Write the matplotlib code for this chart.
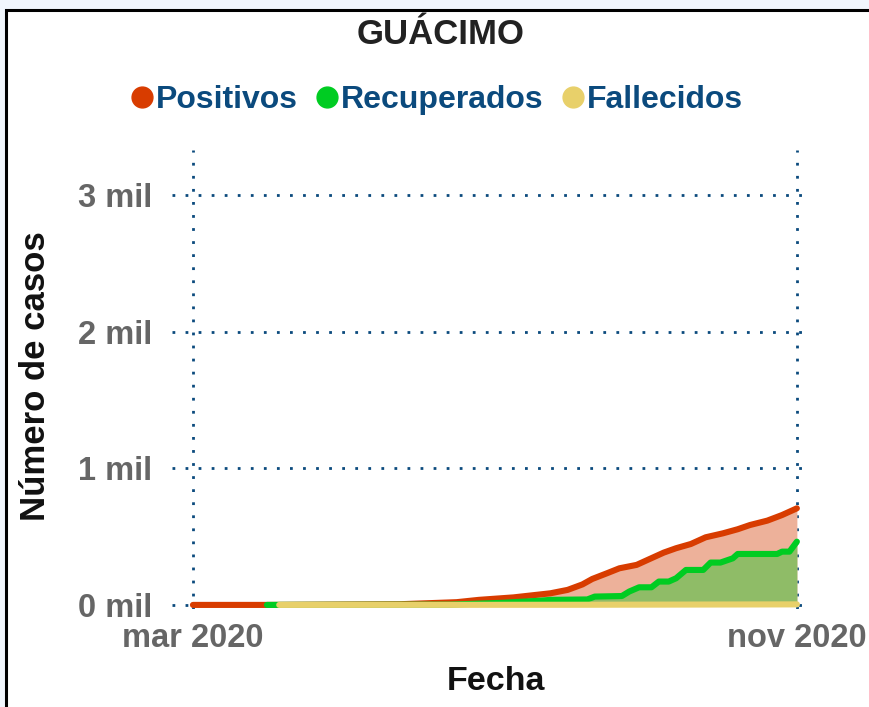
import pandas as pd
import matplotlib
matplotlib.use('Agg')
import matplotlib.pyplot as plt
from matplotlib.lines import Line2D
from matplotlib.patches import Rectangle

plt.rcParams['font.family'] = ['Liberation Sans', 'DejaVu Sans']
plt.rcParams['font.weight'] = 'bold'
plt.rcParams['axes.labelweight'] = 'bold'

# data
pos_dates = ['2020-03-01', '2020-04-01', '2020-05-24', '2020-06-16', '2020-06-25',
             '2020-07-09', '2020-07-24', '2020-07-31', '2020-08-06', '2020-08-10',
             '2020-08-16', '2020-08-21', '2020-08-28', '2020-09-02', '2020-09-08',
             '2020-09-13', '2020-09-19', '2020-09-25', '2020-10-02', '2020-10-08',
             '2020-10-13', '2020-10-20', '2020-10-26', '2020-11-01']
positivos = [0, 0, 5, 20, 37, 55, 85, 110, 150, 190, 232, 268, 293, 334, 383,
             415, 446, 495, 524, 554, 585, 617, 658, 707]

rec_dates = ['2020-03-31', '2020-06-13', '2020-07-04', '2020-07-20', '2020-07-24',
             '2020-08-08', '2020-08-11', '2020-08-22', '2020-08-25', '2020-08-29',
             '2020-09-03', '2020-09-06', '2020-09-10', '2020-09-13', '2020-09-17',
             '2020-09-24', '2020-09-27', '2020-10-01', '2020-10-06', '2020-10-08',
             '2020-10-24', '2020-10-26', '2020-10-29', '2020-11-01']
recuperados = [0, 2, 15, 31, 37, 40, 61, 65, 98, 129, 129, 171, 171, 195, 256,
               256, 310, 310, 341, 373, 373, 390, 390, 463]

fal_dates = ['2020-04-05', '2020-08-01', '2020-11-01']
fallecidos = [0, 1, 4]

tick_dates = ['2020-03-01', '2020-11-01']
tick_labels = ['mar 2020', 'nov 2020']
y_ticks = [0, 1000, 2000, 3000]
y_labels = ['0 mil', '1 mil', '2 mil', '3 mil']

c_pos = '#d83c00'
c_rec = '#00cc22'
c_fal = '#e8d06a'
c_blue = '#0b4a7d'

pos_d = pd.to_datetime(pos_dates)
rec_d = pd.to_datetime(rec_dates)
fal_d = pd.to_datetime(fal_dates)

fig = plt.figure(figsize=(8.7, 7.07), dpi=100)
fig.patch.set_facecolor('#f1f6fd')
frame = Rectangle((6 / 870, -0.1), 1.1, 1.1 - 10 / 707, transform=fig.transFigure,
                  facecolor='white', edgecolor='black', linewidth=2.2, zorder=-10)
fig.patches.append(frame)

ax = fig.add_axes([0.1977, 0.1386, 0.731, 0.6492])
ax.set_facecolor('none')

ax.fill_between(pos_d, 0, positivos, color='#edb19a', lw=0, zorder=1)
ax.fill_between(rec_d, 0, recuperados, color='#8fbc67', lw=0, zorder=2)
ax.plot(pos_d, positivos, color=c_pos, lw=4.4, solid_capstyle='round', solid_joinstyle='round', zorder=3)
ax.plot(rec_d, recuperados, color=c_rec, lw=4.4, solid_capstyle='round', solid_joinstyle='round', zorder=4)
ax.plot(fal_d, fallecidos, color=c_fal, lw=4.4, solid_capstyle='round', zorder=5)

ax.set_xlim(pd.Timestamp('2020-02-21 12:00'), pd.Timestamp('2020-11-05 12:00'))
ax.set_ylim(-30, 3330)
ax.set_xticks(pd.to_datetime(tick_dates))
ax.set_xticklabels(tick_labels)
ax.set_yticks(y_ticks)
ax.set_yticklabels(y_labels)
ax.tick_params(length=0, labelsize=23.5, labelcolor='#666666')
ax.tick_params(axis='x', pad=10)
ax.tick_params(axis='y', pad=14)
for s in ax.spines.values():
    s.set_visible(False)
ax.grid(True, color=c_blue, linestyle=(0, (1, 3.7)), lw=2.0)
ax.set_axisbelow(True)

ax.set_xlabel('Fecha', fontsize=24.5, color='#111111')
ax.xaxis.set_label_coords(0.509, -0.157)
ax.xaxis.label.set_va('center')
ax.set_ylabel('Número de casos', fontsize=25, color='#111111')
ax.yaxis.set_label_coords(-0.2154, 0.5076)
ax.yaxis.label.set_va('center')

fig.text(0.506, 1 - 35 / 707, 'GUÁCIMO', ha='center', va='center', fontsize=25, color='#222222')

handles = [Line2D([], [], ls='none', marker='o', markersize=15, color=c, mec=c)
           for c in (c_pos, c_rec, c_fal)]
leg = fig.legend(handles, ['Positivos', 'Recuperados', 'Fallecidos'], loc='center',
                 bbox_to_anchor=(0.503, 1 - 100 / 707), ncol=3, frameon=False,
                 prop={'size': 23, 'weight': 'bold'}, handlelength=0.6,
                 handletextpad=0.15, columnspacing=0.6)
for t in leg.get_texts():
    t.set_color(c_blue)

fig.savefig('out.png', dpi=100, facecolor=fig.get_facecolor())
